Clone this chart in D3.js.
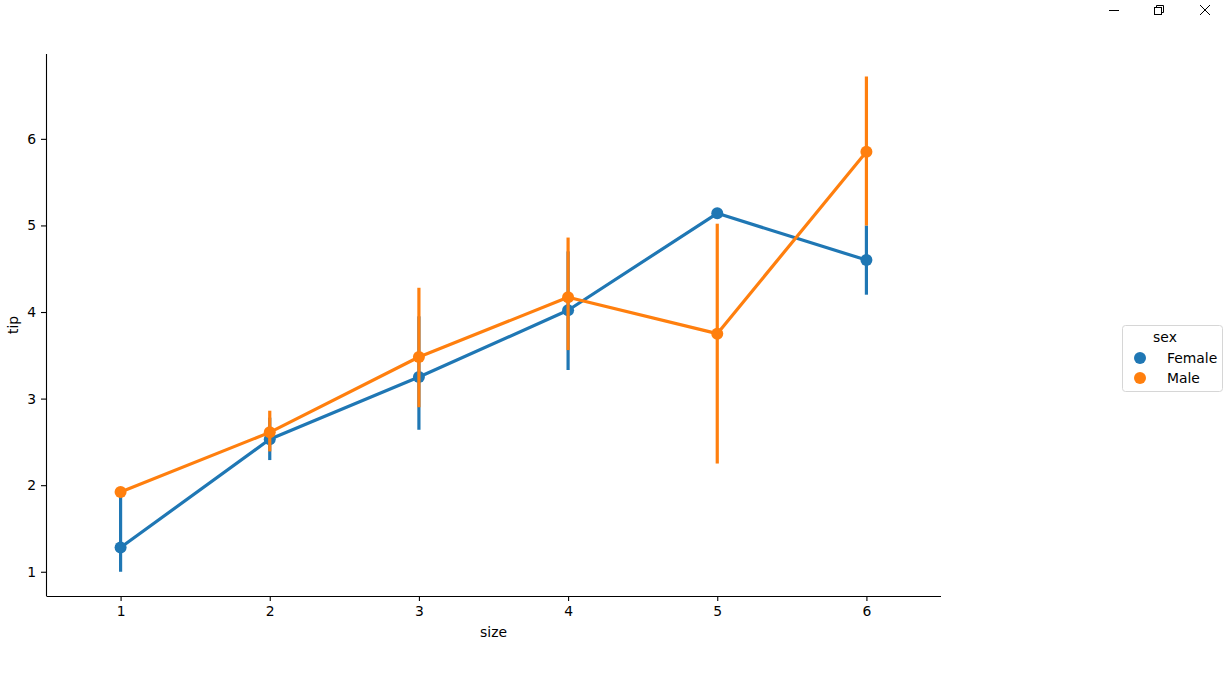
<!DOCTYPE html>
<html>
<head>
<meta charset="utf-8">
<script src="https://cdn.jsdelivr.net/npm/d3@7"></script>
<style>
  body { margin: 0; background: #fff; }
  svg { font-family: "DejaVu Sans", sans-serif; }
</style>
</head>
<body>
<div id="chart"></div>
<script>
// data
var sizes = [1, 2, 3, 4, 5, 6];
var femaleTip = [1.28, 2.53, 3.25, 4.02, 5.14, 4.60];
var femaleLow = [1.00, 2.29, 2.64, 3.33, 5.14, 4.20];
var femaleHigh = [1.88, 2.78, 3.95, 4.70, 5.14, 5.00];
var maleTip = [1.92, 2.61, 3.48, 4.17, 3.75, 5.85];
var maleLow = [1.92, 2.39, 2.90, 3.56, 2.25, 5.00];
var maleHigh = [1.92, 2.86, 4.28, 4.86, 5.02, 6.72];
var yTicks = [1, 2, 3, 4, 5, 6];

var series = [
  { name: "Female", color: "#1f77b4", tip: femaleTip, low: femaleLow, high: femaleHigh },
  { name: "Male", color: "#ff7f0e", tip: maleTip, low: maleLow, high: maleHigh }
];

var svgWidth = 1230;
var svgHeight = 691;

var margin = { top: 54, left: 46 };
var width = 895;
var height = 542;
var fontSize = "13.9px";

var svg = d3.select("#chart")
  .append("svg")
  .attr("width", svgWidth)
  .attr("height", svgHeight);

// window buttons, top right
var win = svg.append("g").attr("stroke", "#000").attr("stroke-width", 1).attr("fill", "none");
win.append("line").attr("x1", 1109).attr("x2", 1119).attr("y1", 10.5).attr("y2", 10.5);
win.append("rect").attr("x", 1154.5).attr("y", 7.5).attr("width", 7).attr("height", 7).attr("fill", "#fff");
win.append("path").attr("d", "M1156.5,7.5 V5.5 H1163.5 V12.5 H1161.5");
win.append("path").attr("d", "M1200,5 L1210,15 M1210,5 L1200,15");

var chartGroup = svg.append("g")
  .attr("transform", `translate(${margin.left}, ${margin.top})`);

var xScale = d3.scaleLinear()
  .domain([-0.5, 5.5])
  .range([0, width]);

var yScale = d3.scaleLinear()
  .domain([0.72, 6.98])
  .range([height, 0]);

var bottomAxis = d3.axisBottom(xScale)
  .tickValues(d3.range(sizes.length))
  .tickFormat(i => sizes[i])
  .tickSize(5)
  .tickPadding(5);

var leftAxis = d3.axisLeft(yScale)
  .tickValues(yTicks)
  .tickFormat(d3.format("d"))
  .tickSize(5)
  .tickPadding(5);

var xAxis = chartGroup.append("g")
  .attr("transform", `translate(0, ${height})`)
  .call(bottomAxis);

var yAxis = chartGroup.append("g")
  .call(leftAxis);

[xAxis, yAxis].forEach(function(ax) {
  ax.select(".domain").attr("stroke", "#000").attr("stroke-width", 1.1);
  ax.selectAll(".tick line").attr("stroke", "#000").attr("stroke-width", 1.1);
  ax.selectAll(".tick text")
    .attr("font-size", fontSize)
    .attr("font-family", "DejaVu Sans, sans-serif")
    .attr("fill", "#000");
});
// drop the end caps d3 puts on the spines
xAxis.select(".domain").attr("d", `M0.5,0.5H${width}`);
yAxis.select(".domain").attr("d", `M0.5,0V${height}`);

chartGroup.append("text")
  .attr("x", xScale(2.5))
  .attr("y", height + 41)
  .attr("text-anchor", "middle")
  .attr("font-size", fontSize)
  .attr("fill", "#000")
  .text("size");

chartGroup.append("text")
  .attr("transform", `translate(-28, ${height / 2}) rotate(-90)`)
  .attr("text-anchor", "middle")
  .attr("font-size", fontSize)
  .attr("fill", "#000")
  .text("tip");

var line = d3.line()
  .x((d, i) => xScale(i))
  .y(d => yScale(d));

series.forEach(function(s) {
  var g = chartGroup.append("g");

  g.append("path")
    .datum(s.tip)
    .attr("d", line)
    .attr("fill", "none")
    .attr("stroke", s.color)
    .attr("stroke-width", 3.2)
    .attr("stroke-linejoin", "round");

  g.selectAll(".err")
    .data(sizes)
    .enter()
    .append("line")
    .attr("x1", (d, i) => xScale(i))
    .attr("x2", (d, i) => xScale(i))
    .attr("y1", (d, i) => yScale(s.low[i]))
    .attr("y2", (d, i) => yScale(s.high[i]))
    .attr("stroke", s.color)
    .attr("stroke-width", 3.2);

  g.selectAll(".pt")
    .data(s.tip)
    .enter()
    .append("circle")
    .attr("cx", (d, i) => xScale(i))
    .attr("cy", d => yScale(d))
    .attr("r", 6)
    .attr("fill", s.color);
});

// legend
var legend = svg.append("g")
  .attr("transform", "translate(1122, 325)");

legend.append("rect")
  .attr("x", 0.5)
  .attr("y", 0.5)
  .attr("width", 100)
  .attr("height", 66)
  .attr("rx", 3)
  .attr("fill", "#fff")
  .attr("stroke", "#d6d6d6");

legend.append("text")
  .attr("x", 43)
  .attr("y", 17)
  .attr("text-anchor", "middle")
  .attr("font-size", fontSize)
  .attr("fill", "#000")
  .text("sex");

series.forEach(function(s, i) {
  legend.append("circle")
    .attr("cx", 18)
    .attr("cy", 33 + i * 20)
    .attr("r", 6)
    .attr("fill", s.color);
  legend.append("text")
    .attr("x", 45)
    .attr("y", 38 + i * 20)
    .attr("font-size", fontSize)
    .attr("fill", "#000")
    .text(s.name);
});
</script>
</body>
</html>
